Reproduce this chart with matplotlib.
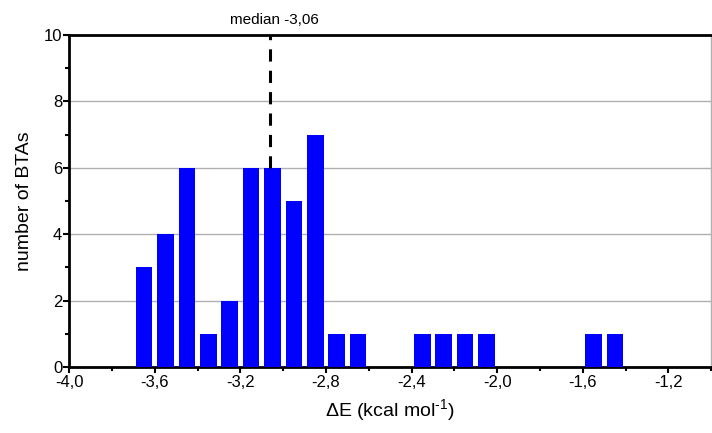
import matplotlib
matplotlib.use("Agg")
import matplotlib.pyplot as plt
from matplotlib.ticker import MultipleLocator, FuncFormatter

plt.rcParams['font.family'] = ['Liberation Sans', 'DejaVu Sans']
plt.rcParams['mathtext.fontset'] = 'custom'
plt.rcParams['mathtext.rm'] = 'Liberation Sans'
plt.rcParams['mathtext.it'] = 'Liberation Sans:italic'

# Histogram of interaction energies (bin centres, 0.1 kcal/mol bins)
bin_centers = [-3.65, -3.55, -3.45, -3.35, -3.25, -3.15, -3.05, -2.95, -2.85,
               -2.75, -2.65, -2.35, -2.25, -2.15, -2.05, -1.55, -1.45]
counts = [3, 4, 6, 1, 2, 6, 6, 5, 7, 1, 1, 1, 1, 1, 1, 1, 1]
median_value = -3.06
median_label = "median -3,06"

fig = plt.figure(figsize=(7.12, 4.33), dpi=100)
ax = fig.add_axes([0.0973, 0.1524, 0.9014, 0.7668])

ax.bar(bin_centers, counts, width=0.077, color='#0000ff', zorder=3)

ax.set_xlim(-4.0, -1.0)
ax.set_ylim(0, 10)

ax.yaxis.set_major_locator(MultipleLocator(2))
ax.yaxis.set_minor_locator(MultipleLocator(1))
ax.xaxis.set_major_locator(MultipleLocator(0.4))
ax.xaxis.set_minor_locator(MultipleLocator(0.2))

ax.xaxis.set_major_formatter(FuncFormatter(
    lambda v, p: ("%.1f" % v).replace('.', ',') if v < -1.1 else ""))
ax.yaxis.set_major_formatter(FuncFormatter(lambda v, p: "%d" % v))

ax.grid(axis='y', which='major', color='#b0b0b0', linewidth=1.0, zorder=0)

for side in ('left', 'bottom', 'top'):
    ax.spines[side].set_linewidth(2.0)
    ax.spines[side].set_color('black')
ax.spines['right'].set_linewidth(1.0)
ax.spines['right'].set_color('#b0b0b0')

ax.tick_params(axis='both', which='major', direction='out', length=4, width=1.5,
               labelsize=12, color='black')
ax.tick_params(axis='x', which='major', pad=2)
ax.tick_params(axis='y', which='major', pad=1)
ax.tick_params(axis='both', which='minor', direction='out', length=3, width=1.5,
               color='black')
ax.tick_params(axis='y', which='both', right=False)
ax.tick_params(axis='x', which='both', top=False)

# median marker
ax.plot([median_value, median_value], [6.0, 10.0], color='black',
        linestyle=(0, (4, 3)), linewidth=2.2, zorder=4)
ax.text(median_value + 0.02, 10.25, median_label, ha='center', va='bottom',
        fontsize=11)

ax.set_xlabel(r"$\Delta$E (kcal mol$^{\text{-1}}$)", fontsize=14, labelpad=5)
ax.set_ylabel("number of BTAs", fontsize=14, labelpad=8)

fig.savefig("out.png", dpi=100)
